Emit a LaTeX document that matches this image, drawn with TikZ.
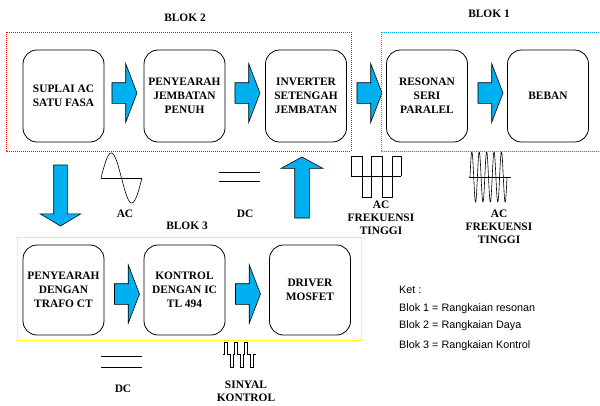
\documentclass[tikz,border=0pt]{standalone}
\usepackage{fontspec}
\setmainfont{Liberation Serif}
\setsansfont{Liberation Sans}
\usepackage{tikz}
\usetikzlibrary{shapes.arrows}

\definecolor{biru}{HTML}{00B0F0}
\definecolor{kuning}{HTML}{FFEE00}

\begin{document}
\begin{tikzpicture}[x=1pt,y=-1pt,
    kotak/.style={draw,rounded corners=14pt,minimum width=81pt,minimum height=92pt,inner sep=1pt,align=center,line width=0.8pt,font=\bfseries\fontsize{11.4}{14}\selectfont},
    judul/.style={font=\bfseries\fontsize{11.4}{13}\selectfont,align=center,inner sep=0pt},
    ket/.style={anchor=base west,inner sep=0pt,font=\sffamily\fontsize{10.8}{12}\selectfont},
    panah/.style={single arrow,draw,fill=biru,line width=0.6pt,inner xsep=0pt,inner ysep=10pt,minimum height=25pt,single arrow head extend=19pt,single arrow tip angle=138},
    garis/.style={dash pattern=on 1pt off 1pt,line width=0.9pt},
    gelombang/.style={line width=0.6pt}]
    \useasboundingbox (0,0) rectangle (600,405);

    % blok-blok
    \draw[garis,red] (6,32) rectangle (351,151);
    \draw[garis,biru] (381,32) rectangle (606,151);
    \draw[garis,kuning] (17,237) rectangle (361,340);
    \node[judul] (blok2) at (185,18) {BLOK 2};
    \node[judul] (blok1) at (489,14) {BLOK 1};
    \node[judul] (blok3) at (187,226) {BLOK 3};

    % baris atas
    \node[kotak] (suplai) at (63.5,96) {SUPLAI AC\\SATU FASA};
    \node[kotak] (jembatan) at (184.5,96) {PENYEARAH\\JEMBATAN\\PENUH};
    \node[kotak] (inverter) at (306,96) {INVERTER\\SETENGAH\\JEMBATAN};
    \node[kotak] (resonan) at (427,96) {RESONAN\\SERI\\PARALEL};
    \node[kotak] (beban) at (548,96) {BEBAN};
    \node[panah] (p1) at (122.5,93) {};
    \node[panah] (p2) at (245.5,93) {};
    \node[panah] (p3) at (367.5,93) {};
    \node[panah] (p4) at (488.5,93) {};

    % baris bawah
    \node[kotak,minimum height=90pt] (trafo) at (63.5,290) {PENYEARAH\\DENGAN\\TRAFO CT};
    \node[kotak,minimum height=90pt] (kontrol) at (184.5,290) {KONTROL\\DENGAN IC\\TL 494};
    \node[kotak,minimum height=90pt] (driver) at (310,290) {DRIVER\\MOSFET};
    \node[panah] (p5) at (125,294) {};
    \node[panah] (p6) at (246,294) {};

    % panah tegak
    \node[panah,rotate=-90,minimum height=61pt,inner ysep=6.5pt,single arrow head extend=13.5pt,single arrow tip angle=118] (turun) at (60.5,193.5) {};
    \node[panah,rotate=90,minimum height=61pt,inner ysep=7pt,single arrow head extend=13.5pt,single arrow tip angle=123] (naik) at (302,189.5) {};

    % bentuk gelombang
    \draw[gelombang] (101,178) -- (142,178);
    \draw[gelombang] plot[domain=0:360,samples=60] ({101+\x/360*41},{178-25*sin(\x)});
    \node[judul] (ac) at (125,214) {AC};
    \draw[gelombang] (219,172) -- (260,172);
    \draw[gelombang] (219,181) -- (260,181);
    \node[judul] (dc) at (245,214) {DC};
    \draw[gelombang] (351,176) -- (401,176);
    \draw[gelombang] (351,176) -- (351,156) -- (362,156) -- (362,197) -- (371,197) -- (371,156) -- (382,156)
        -- (382,197) -- (392,197) -- (392,156) -- (401,156) -- (401,176);
    \node[judul] (acfrek) at (381,217.5) {AC\\FREKUENSI\\TINGGI};
    \draw[gelombang] (469,177) -- (511,177);
    \draw[gelombang] plot[domain=0:1800,samples=240] ({470+\x/1800*37},{177-25*sin(\x)});
    \node[judul] (acfrek2) at (499,227) {AC\\FREKUENSI\\TINGGI};
    \draw[gelombang] (101,356) -- (142,356);
    \draw[gelombang] (101,367) -- (142,367);
    \node[judul] (dc2) at (123,389) {DC};
    \draw[gelombang] (223,354) -- (224,354) -- (224,342) -- (227,342) -- (227,354) -- (230,354) -- (230,367) -- (233,367)
        -- (233,354) -- (234,354) -- (234,342) -- (237,342) -- (237,354) -- (240,354) -- (240,367) -- (243,367)
        -- (243,354) -- (244,354) -- (244,342) -- (247,342) -- (247,354) -- (250,354) -- (250,367) -- (253,367)
        -- (253,354) -- (256,354);
    \node[judul] (sinyal) at (246,391) {SINYAL\\KONTROL};

    % keterangan
    \node[ket] (ket0) at (399,293) {Ket :};
    \node[ket] (ket1) at (399,311) {Blok 1 = Rangkaian resonan};
    \node[ket] (ket2) at (399,328) {Blok 2 = Rangkaian Daya};
    \node[ket] (ket3) at (399,348) {Blok 3 = Rangkaian Kontrol};
\end{tikzpicture}
\end{document}
